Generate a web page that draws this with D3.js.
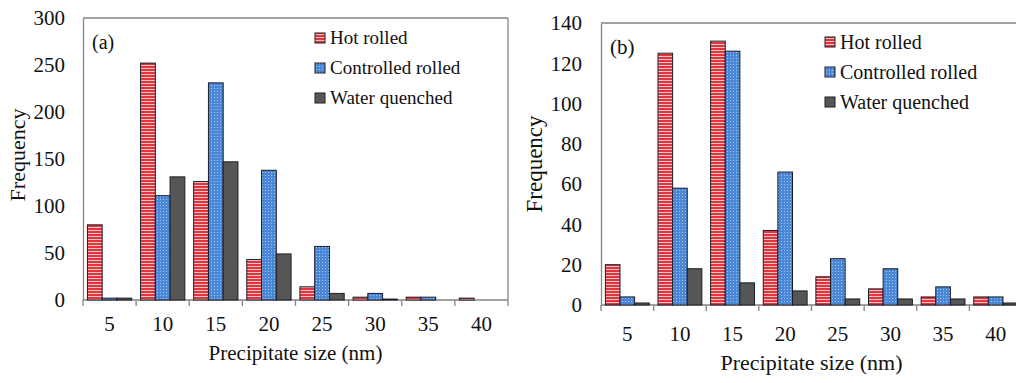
<!DOCTYPE html>
<html>
<head>
<meta charset="utf-8">
<script src="https://cdn.jsdelivr.net/npm/d3@7"></script>
<style>
  body { margin: 0; background: #fff; }
  svg { display: block; }
</style>
</head>
<body>
<script>
// precipitate size categories (nm)
const sizes = ["5", "10", "15", "20", "25", "30", "35", "40"];
const seriesNames = ["Hot rolled", "Controlled rolled", "Water quenched"];

// panel (a)
const hotA   = [80, 252, 126, 43, 14, 3, 3, 2];
const ctrlA  = [2, 111, 231, 138, 57, 7, 3, 0];
const waterA = [2, 131, 147, 49, 7, 1, 0, 0];
const ticksA = [0, 50, 100, 150, 200, 250, 300];

// panel (b)
const hotB   = [20, 125, 131, 37, 14, 8, 4, 4];
const ctrlB  = [4, 58, 126, 66, 23, 18, 9, 4];
const waterB = [1, 18, 11, 7, 3, 3, 3, 1];
const ticksB = [0, 20, 40, 60, 80, 100, 120, 140];

const W = 1016, H = 383;
const FONT = '"Liberation Serif"';
const svg = d3.select("body").append("svg")
  .attr("width", W)
  .attr("height", H)
  .style("font-family", FONT);

// fill patterns for the three series
const defs = svg.append("defs");
const pHot = defs.append("pattern").attr("id", "pHot")
  .attr("patternUnits", "userSpaceOnUse").attr("width", 4).attr("height", 3);
pHot.append("rect").attr("width", 4).attr("height", 3).attr("fill", "#f6c4c6");
pHot.append("rect").attr("width", 4).attr("height", 2).attr("fill", "#e0353c");

const pCtrl = defs.append("pattern").attr("id", "pCtrl")
  .attr("patternUnits", "userSpaceOnUse").attr("width", 3).attr("height", 3);
pCtrl.append("rect").attr("width", 3).attr("height", 3).attr("fill", "#4a87d6");
pCtrl.append("rect").attr("x", 1).attr("y", 1).attr("width", 1).attr("height", 1).attr("fill", "#a9c8ef");

const fills = ["url(#pHot)", "url(#pCtrl)", "#565656"];
const axisCol = "#858585";

function drawPanel(cfg) {
  const g = svg.append("g");

  const x = d3.scaleBand()
    .domain(sizes)
    .range([cfg.left, cfg.right])
    .padding(0);

  const xs = d3.scaleBand()
    .domain(seriesNames)
    .range([0, x.bandwidth()])
    .paddingInner(0)
    .paddingOuter(0.3);

  const y = d3.scaleLinear()
    .domain([0, cfg.max])
    .range([cfg.bottom, cfg.top]);

  // frame: top line and right line
  g.append("line")
    .attr("x1", cfg.left).attr("x2", cfg.right)
    .attr("y1", cfg.top).attr("y2", cfg.top)
    .attr("stroke", axisCol).attr("stroke-width", 1.3);
  g.append("line")
    .attr("x1", cfg.right).attr("x2", cfg.right)
    .attr("y1", cfg.top).attr("y2", cfg.bottom)
    .attr("stroke", axisCol).attr("stroke-width", 1.3);

  // y axis
  const ya = g.append("g")
    .attr("transform", `translate(${cfg.left},0)`)
    .call(d3.axisLeft(y).tickValues(cfg.ticks).tickSize(0).tickPadding(cfg.tickPad));
  ya.select(".domain").attr("stroke", axisCol).attr("stroke-width", 1.3);
  ya.selectAll("text")
    .style("font-family", FONT)
    .style("font-size", cfg.tickFont + "px")
    .attr("fill", "#111");

  // x axis: labels at band centres, tick marks at band edges
  const xa = g.append("g")
    .attr("transform", `translate(0,${cfg.bottom})`)
    .call(d3.axisBottom(x).tickSize(0).tickPadding(cfg.xLabPad));
  xa.select(".domain").remove();
  xa.selectAll("text")
    .style("font-family", FONT)
    .style("font-size", cfg.tickFont + "px")
    .attr("fill", "#111");

  const edges = sizes.map(d => x(d)).concat([x.range()[1]]);
  g.append("line")
    .attr("x1", cfg.left).attr("x2", cfg.right)
    .attr("y1", cfg.bottom).attr("y2", cfg.bottom)
    .attr("stroke", axisCol).attr("stroke-width", 1.3);
  g.selectAll(".xt")
    .data(edges)
    .join("line")
    .attr("class", "xt")
    .attr("x1", d => d).attr("x2", d => d)
    .attr("y1", cfg.bottom).attr("y2", cfg.bottom + 6)
    .attr("stroke", axisCol).attr("stroke-width", 1.3);

  // bars
  const rows = [];
  cfg.series.forEach((vals, si) => {
    vals.forEach((v, i) => {
      if (v > 0) rows.push({ cat: sizes[i], s: seriesNames[si], si: si, v: v });
    });
  });
  g.selectAll(".bar")
    .data(rows)
    .join("rect")
    .attr("class", "bar")
    .attr("x", d => x(d.cat) + xs(d.s))
    .attr("y", d => y(d.v))
    .attr("width", xs.bandwidth())
    .attr("height", d => y(0) - y(d.v))
    .attr("fill", d => fills[d.si])
    .attr("stroke", "#1c1c28")
    .attr("stroke-width", 1);

  // panel letter
  g.append("text")
    .attr("x", cfg.left + 9)
    .attr("y", cfg.top + 31)
    .style("font-family", FONT)
    .style("font-size", (cfg.legFont + 1) + "px")
    .attr("fill", "#111")
    .text(cfg.letter);

  // legend
  const leg = g.selectAll(".leg")
    .data(seriesNames)
    .join("g")
    .attr("class", "leg")
    .attr("transform", (d, i) => `translate(${cfg.legX},${cfg.legY + i * 30})`);
  leg.append("rect")
    .attr("x", 0).attr("y", -5)
    .attr("width", 10).attr("height", 10)
    .attr("fill", (d, i) => fills[i])
    .attr("stroke", "#1c1c28")
    .attr("stroke-width", 1);
  leg.append("text")
    .attr("x", 15)
    .attr("y", 0)
    .attr("dy", "0.33em")
    .style("font-family", FONT)
    .style("font-size", cfg.legFont + "px")
    .attr("fill", "#111")
    .text(d => d);

  // axis titles
  g.append("text")
    .attr("x", (cfg.left + cfg.right) / 2)
    .attr("y", cfg.xTitleY)
    .attr("text-anchor", "middle")
    .style("font-family", FONT)
    .style("font-size", cfg.titleFont + "px")
    .attr("fill", "#111")
    .text("Precipitate size (nm)");
  g.append("text")
    .attr("transform", `translate(${cfg.yTitleX},${cfg.yTitleY}) rotate(-90)`)
    .attr("text-anchor", "middle")
    .style("font-family", FONT)
    .style("font-size", (cfg.titleFont + 1) + "px")
    .attr("fill", "#111")
    .text("Frequency");
}

drawPanel({
  letter: "(a)", series: [hotA, ctrlA, waterA], ticks: ticksA, max: 300,
  left: 83, right: 508, top: 18, bottom: 300,
  tickFont: 21, tickPad: 18, xLabPad: 16, legFont: 19, titleFont: 21,
  legX: 315, legY: 38, xTitleY: 360, yTitleX: 25, yTitleY: 155
});

drawPanel({
  letter: "(b)", series: [hotB, ctrlB, waterB], ticks: ticksB, max: 140,
  left: 601, right: 1022, top: 23, bottom: 305,
  tickFont: 21, tickPad: 19, xLabPad: 21, legFont: 20, titleFont: 22,
  legX: 825, legY: 42, xTitleY: 370, yTitleX: 542, yTitleY: 164
});
</script>
</body>
</html>
